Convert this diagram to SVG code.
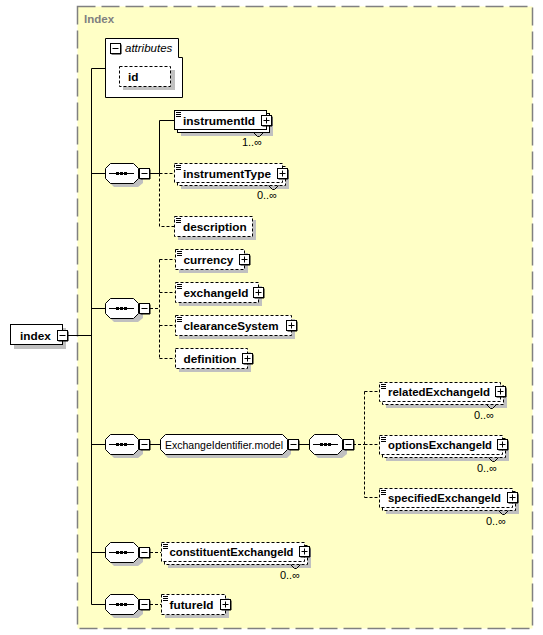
<svg xmlns="http://www.w3.org/2000/svg" xmlns:xlink="http://www.w3.org/1999/xlink" width="543" height="635" viewBox="0 0 543 635">
<style>
.box{fill:#fff;stroke:#000;stroke-width:1}
.dbox{fill:#fff;stroke:#000;stroke-width:1;stroke-dasharray:3 2}
.sh{fill:#c0c0c0}
.lbl{font-family:"Liberation Sans",Arial,sans-serif;font-weight:bold;font-size:11.8px;fill:#000}
.mult{font-family:"Liberation Sans",Arial,sans-serif;font-size:11px;fill:#000;text-anchor:end}
.conn{stroke:#000;stroke-width:1;fill:none}
.dconn{stroke:#000;stroke-width:1;fill:none;stroke-dasharray:3 2}
.ln{stroke:#000;stroke-width:1;fill:none}
</style>
<defs>
<g id="plus">
<rect x="0.5" y="0.5" width="10" height="10" class="box"/>
<path d="M11,1.5V11H1.5" class="ln"/>
<path d="M2.5,5.5H8.5M5.5,2.5V8.5" class="ln"/>
</g>
<g id="minus">
<rect x="0.5" y="0.5" width="10" height="10" class="box"/>
<path d="M11,1.5V11H1.5" class="ln"/>
<path d="M2.5,5.5H8.5" class="ln"/>
</g>
<g id="icon">
<path d="M0,0.5H5M0,2.5H5M0,4.5H5" class="ln"/>
</g>
<g id="seqShape">
<path d="M9,4H29L38,9V20L33,24H9L4,19V9Z" class="sh"/>
<path d="M5.5,0.5H28.5L33.5,5.5V15.5L28.5,20.5H5.5L0.5,15.5V5.5Z" class="box"/>
<path d="M4,10.5H29" class="ln"/>
<path d="M11,10.5H22" stroke="#000" stroke-width="3" stroke-dasharray="3 1"/>
<use xlink:href="#minus" x="34" y="5"/>
</g>
</defs>

<rect x="77.5" y="6.5" width="455" height="622" fill="#ffffc6" stroke="#808080" stroke-width="1.5" stroke-dasharray="18 6"/>
<text x="84" y="23" font-family="Liberation Sans,Arial,sans-serif" font-weight="bold" font-size="11.5" fill="#808080">Index</text>

<g id="connectors">
<path d="M68,335.5H91.5" class="conn"/>
<path d="M105,68.5H91.5V604.5H105" class="conn"/>
<path d="M91.5,173.5H105M91.5,308.5H105M91.5,444.5H105M91.5,552.5H105" class="conn"/>
<path d="M150,173.5H159.5M174,120.5H159.5V173.5" class="conn"/>
<path d="M159.5,173.5H174M159.5,173.5V226.5H174" class="dconn"/>
<path d="M150,308.5H159.5M159.5,259.5V358.5M159.5,259.5H175M159.5,292.5H175M159.5,325.5H175M159.5,358.5H175" class="dconn"/>
<path d="M150,444.5H160M299,444.5H309" class="conn"/>
<path d="M353,444.5H364.5M364.5,391.5V497.5M364.5,391.5H379M364.5,444.5H379M364.5,497.5H379" class="dconn"/>
<path d="M150,552.5H161M150,604.5H161" class="dconn"/>
</g>

<g id="node-index">
<rect x="14" y="328" width="52" height="21" class="sh"/>
<rect x="10.5" y="324.5" width="52" height="20" class="box"/>
<text x="20" y="339.5" class="lbl">index</text>
<use xlink:href="#minus" x="57" y="330"/>
</g>

<g id="node-attributes">
<path d="M105.5,38.5H178.5V57.5H182.5V97.5H105.5Z" class="box"/>
<use xlink:href="#minus" x="110" y="43"/>
<text x="125" y="52" font-family="Liberation Sans,Arial,sans-serif" font-style="italic" font-size="11.5" fill="#000">attributes</text>
</g>
<g id="node-id">
<rect x="123" y="70" width="52" height="20" class="sh"/>
<rect x="119.5" y="66.5" width="51" height="20" class="dbox"/>
<text x="128" y="81" class="lbl">id</text>
</g>

<g id="seq1"><use xlink:href="#seqShape" x="105" y="163"/></g>
<g id="seq2"><use xlink:href="#seqShape" x="105" y="298"/></g>
<g id="seq3"><use xlink:href="#seqShape" x="105" y="434"/></g>
<g id="seq3b"><use xlink:href="#seqShape" x="309" y="434"/></g>
<g id="seq4"><use xlink:href="#seqShape" x="105" y="542"/></g>
<g id="seq5"><use xlink:href="#seqShape" x="105" y="594"/></g>

<g id="node-instrumentId">
<rect x="181" y="117" width="92" height="19" class="sh"/>
<rect x="177.5" y="113.5" width="92" height="19" class="box"/>
<rect x="174.5" y="110.5" width="92" height="19" class="box"/>
<use xlink:href="#icon" x="176" y="112"/>
<text x="183" y="125" class="lbl" textLength="72" lengthAdjust="spacingAndGlyphs">instrumentId</text>
<path d="M253.5,132.5L257.5,136.5H259.5L263.5,132.5" class="ln"/>
<use xlink:href="#plus" x="261" y="115"/>
<text x="262" y="146" class="mult">1..∞</text>
</g>

<g id="node-instrumentType">
<rect x="181" y="170" width="108" height="19" class="sh"/>
<rect x="177.5" y="166.5" width="108" height="19" class="dbox"/>
<rect x="174.5" y="163.5" width="108" height="19" class="dbox"/>
<use xlink:href="#icon" x="176" y="165"/>
<text x="183" y="178" class="lbl" textLength="88" lengthAdjust="spacingAndGlyphs">instrumentType</text>
<path d="M268.5,185.5L272.5,189.5H274.5L278.5,185.5" class="ln"/>
<use xlink:href="#plus" x="277" y="168"/>
<text x="277" y="199" class="mult">0..∞</text>
</g>

<g id="node-description">
<rect x="178" y="220" width="78" height="20" class="sh"/>
<rect x="174.5" y="216.5" width="78" height="20" class="dbox"/>
<use xlink:href="#icon" x="176" y="218"/>
<text x="183" y="231" class="lbl">description</text>
</g>

<g id="node-currency">
<rect x="179" y="253" width="69" height="20" class="sh"/>
<rect x="175.5" y="249.5" width="69" height="20" class="dbox"/>
<use xlink:href="#icon" x="177" y="251"/>
<text x="183.5" y="264" class="lbl">currency</text>
<use xlink:href="#plus" x="239" y="254"/>
</g>

<g id="node-exchangeId">
<rect x="179" y="286" width="83" height="20" class="sh"/>
<rect x="175.5" y="282.5" width="83" height="20" class="dbox"/>
<use xlink:href="#icon" x="177" y="284"/>
<text x="183.5" y="297" class="lbl">exchangeId</text>
<use xlink:href="#plus" x="253" y="287"/>
</g>

<g id="node-clearanceSystem">
<rect x="179" y="319" width="116" height="20" class="sh"/>
<rect x="175.5" y="315.5" width="116" height="20" class="dbox"/>
<use xlink:href="#icon" x="177" y="317"/>
<text x="183.5" y="330" class="lbl" textLength="95" lengthAdjust="spacingAndGlyphs">clearanceSystem</text>
<use xlink:href="#plus" x="286" y="320"/>
</g>

<g id="node-definition">
<rect x="179" y="352" width="72" height="20" class="sh"/>
<rect x="175.5" y="348.5" width="72" height="20" class="dbox"/>
<text x="183.5" y="363" class="lbl">definition</text>
<use xlink:href="#plus" x="242" y="353"/>
</g>

<g id="node-ExchangeIdentifier-model">
<path d="M168,438H287L291,442V454L287,458H168L164,454V442Z" class="sh"/>
<path d="M165.5,434.5H282.5L287.5,439.5V449.5L282.5,454.5H165.5L160.5,449.5V439.5Z" class="box"/>
<text x="165" y="449" font-family="Liberation Sans,Arial,sans-serif" font-size="11.5" fill="#000" textLength="118" lengthAdjust="spacingAndGlyphs">ExchangeIdentifier.model</text>
<use xlink:href="#minus" x="288" y="439"/>
</g>

<g id="node-relatedExchangeId">
<rect x="386" y="389" width="121" height="19" class="sh"/>
<rect x="382.5" y="385.5" width="121" height="19" class="dbox"/>
<rect x="379.5" y="382.5" width="121" height="19" class="dbox"/>
<use xlink:href="#icon" x="381" y="384"/>
<text x="388" y="396" class="lbl" textLength="102" lengthAdjust="spacingAndGlyphs">relatedExchangeId</text>
<path d="M486.5,404.5L490.5,408.5H492.5L496.5,404.5" class="ln"/>
<use xlink:href="#plus" x="495" y="386"/>
<text x="494" y="419" class="mult">0..∞</text>
</g>

<g id="node-optionsExchangeId">
<rect x="386" y="442" width="123" height="19" class="sh"/>
<rect x="382.5" y="438.5" width="123" height="19" class="dbox"/>
<rect x="379.5" y="435.5" width="123" height="19" class="dbox"/>
<use xlink:href="#icon" x="381" y="437"/>
<text x="388" y="449" class="lbl" textLength="104" lengthAdjust="spacingAndGlyphs">optionsExchangeId</text>
<path d="M488.5,457.5L492.5,461.5H494.5L498.5,457.5" class="ln"/>
<use xlink:href="#plus" x="497" y="439"/>
<text x="497" y="472" class="mult">0..∞</text>
</g>

<g id="node-specifiedExchangeId">
<rect x="386" y="495" width="133" height="19" class="sh"/>
<rect x="382.5" y="491.5" width="133" height="19" class="dbox"/>
<rect x="379.5" y="488.5" width="133" height="19" class="dbox"/>
<use xlink:href="#icon" x="381" y="490"/>
<text x="388" y="502" class="lbl" textLength="113" lengthAdjust="spacingAndGlyphs">specifiedExchangeId</text>
<path d="M498.5,510.5L502.5,514.5H504.5L508.5,510.5" class="ln"/>
<use xlink:href="#plus" x="507" y="492"/>
<text x="506" y="525" class="mult">0..∞</text>
</g>

<g id="node-constituentExchangeId">
<rect x="168" y="549" width="143" height="19" class="sh"/>
<rect x="164.5" y="545.5" width="143" height="19" class="dbox"/>
<rect x="161.5" y="542.5" width="143" height="19" class="dbox"/>
<use xlink:href="#icon" x="163" y="544"/>
<text x="169.5" y="556" class="lbl" textLength="124" lengthAdjust="spacingAndGlyphs">constituentExchangeId</text>
<path d="M290.5,564.5L294.5,568.5H296.5L300.5,564.5" class="ln"/>
<use xlink:href="#plus" x="299" y="546"/>
<text x="300" y="579" class="mult">0..∞</text>
</g>

<g id="node-futureId">
<rect x="165" y="598" width="64" height="20" class="sh"/>
<rect x="161.5" y="594.5" width="64" height="20" class="dbox"/>
<use xlink:href="#icon" x="163" y="596"/>
<text x="169.5" y="609" class="lbl">futureId</text>
<use xlink:href="#plus" x="220" y="599"/>
</g>
</svg>
